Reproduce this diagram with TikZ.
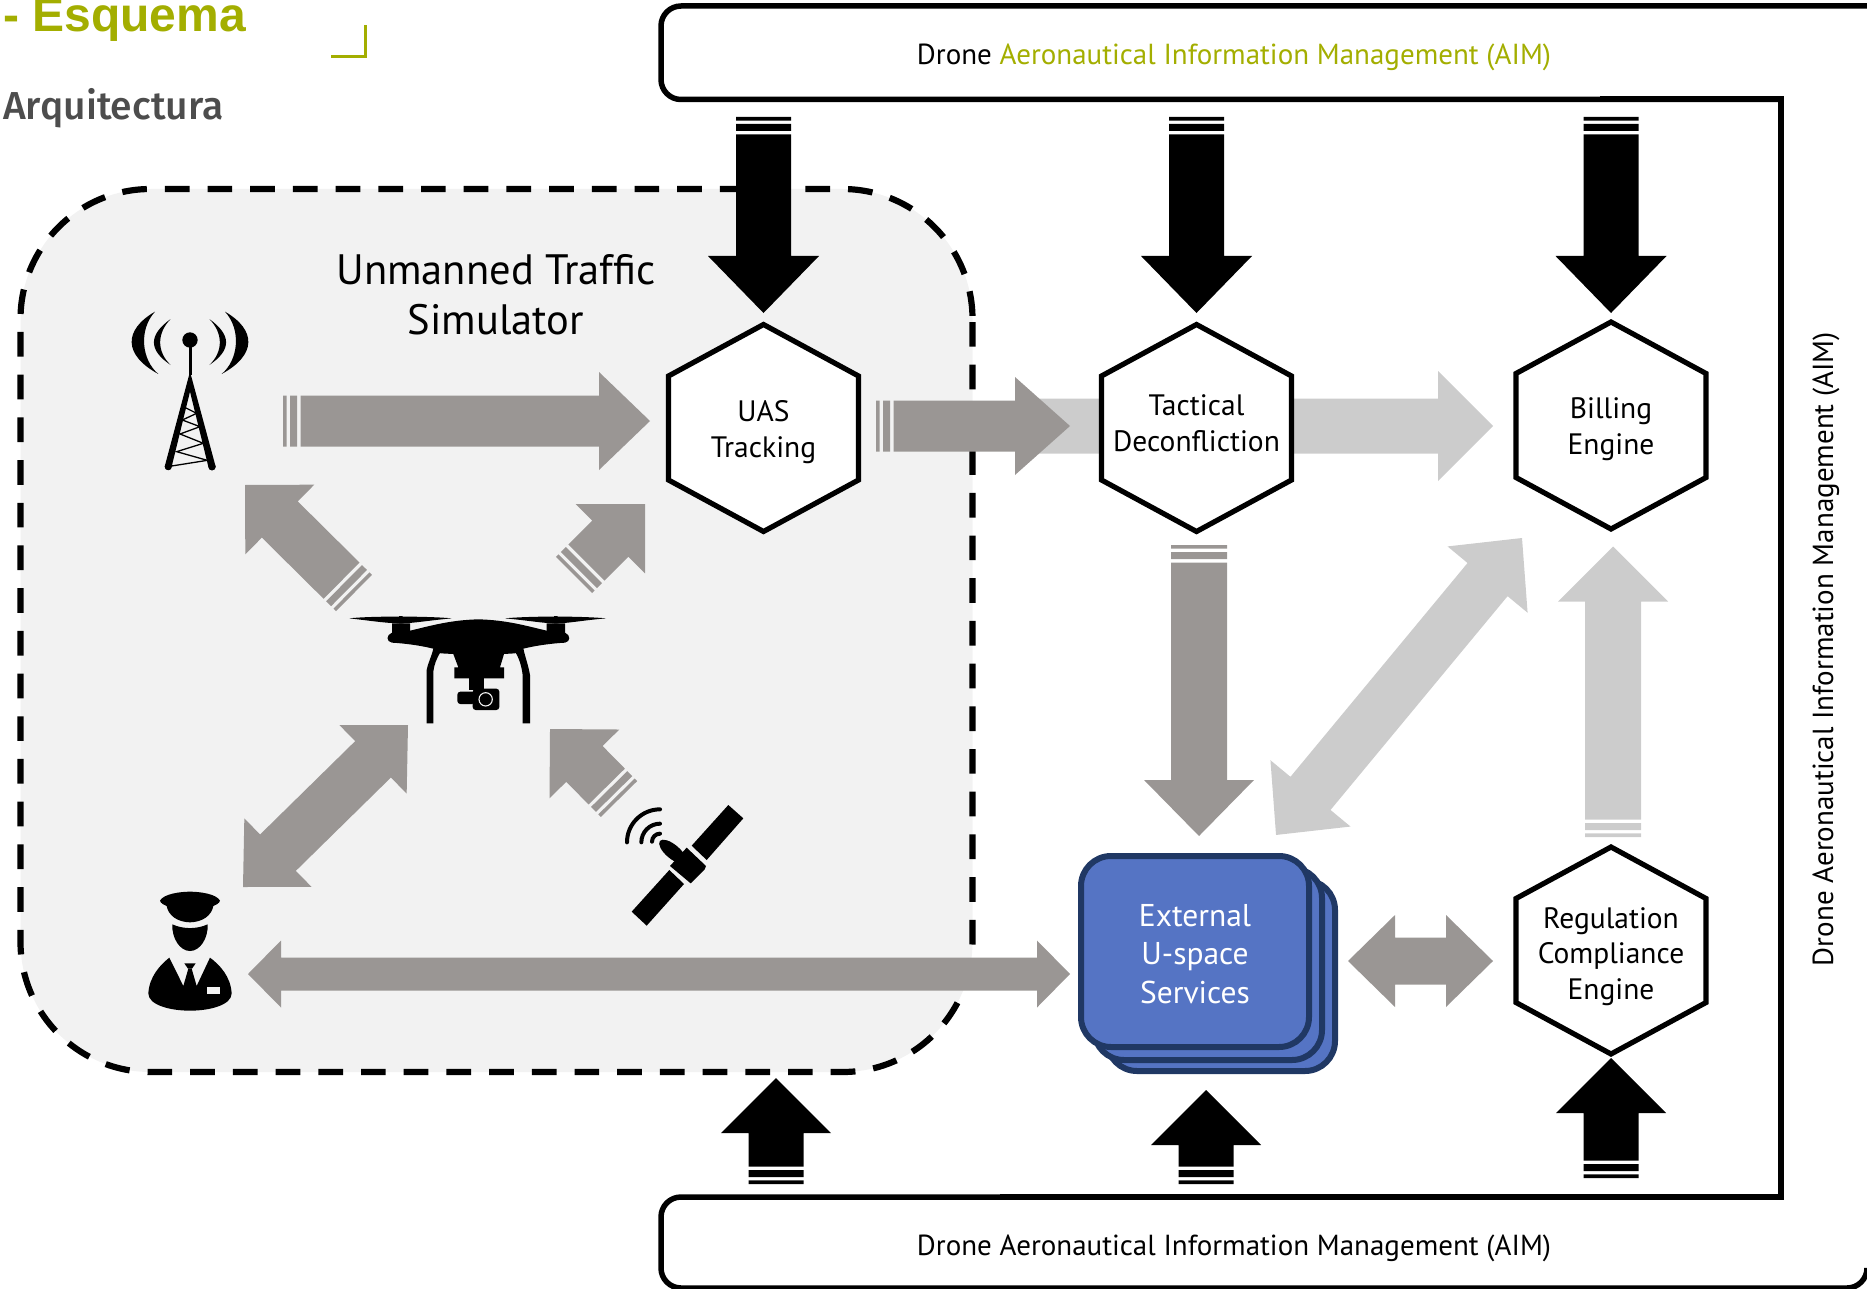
\documentclass[tikz,border=0pt]{standalone}
\usepackage{fontspec}
\setmainfont{PT Sans}
\newfontfamily\titlefont{Liberation Sans}
\newfontfamily\subfont{Fira Sans Medium}
\usetikzlibrary{calc}
\definecolor{darkgr}{HTML}{9A9694}
\definecolor{lightgr}{HTML}{CCCCCC}
\definecolor{simfill}{HTML}{F2F2F2}
\definecolor{aimgreen}{HTML}{A3AE00}
\definecolor{extfill}{HTML}{5574C4}
\definecolor{extline}{HTML}{203864}
\definecolor{subgr}{HTML}{4D4D4D}
\newcommand\getvec[2]{\path let \p1=($(#2)-(#1)$) in \pgfextra{\pgfmathsetmacro\aang{atan2(\y1,\x1)}\pgfmathsetmacro\alen{veclen(\x1,\y1)}\global\let\Aang\aang\global\let\Alen\alen};}
% from, to, colour, shaft, head, head length
\newcommand\stripearrow[6]{\getvec{#1}{#2}
 \fill[#3,shift={(#1)},rotate=\Aang,x=1pt,y=1pt]
  (0,-#4/2) rectangle (3.6,#4/2)
  (7,-#4/2) rectangle (14,#4/2)
  (17.5,-#4/2) -- ({\Alen-#6},-#4/2) -- ({\Alen-#6},-#5/2) -- (\Alen,0) -- ({\Alen-#6},#5/2) -- ({\Alen-#6},#4/2) -- (17.5,#4/2) -- cycle;}
\newcommand\dblarrow[6]{\getvec{#1}{#2}
 \fill[#3,shift={(#1)},rotate=\Aang,x=1pt,y=1pt]
  (0,0) -- (#6,-#5/2) -- (#6,-#4/2) -- ({\Alen-#6},-#4/2) -- ({\Alen-#6},-#5/2) -- (\Alen,0) -- ({\Alen-#6},#5/2) -- ({\Alen-#6},#4/2) -- (#6,#4/2) -- (#6,#5/2) -- cycle;}
\newcommand\plainarrow[6]{\getvec{#1}{#2}
 \fill[#3,shift={(#1)},rotate=\Aang,x=1pt,y=1pt]
  (0,-#4/2) -- ({\Alen-#6},-#4/2) -- ({\Alen-#6},-#5/2) -- (\Alen,0) -- ({\Alen-#6},#5/2) -- ({\Alen-#6},#4/2) -- (0,#4/2) -- cycle;}
% name, cx, cy, text offset, text
\newcommand\hexnode[5]{
 \draw[hexline,shift={(#2,#3)}] (0,-103.5) -- (95,-52) -- (95,52) -- (0,103.5) -- (-95,52) -- (-95,-52) -- cycle;
 \node[boxtext] (#1) at (#2,#3+#4) {#5};}
\tikzset{
 hexline/.style={draw=black,line width=5.2pt,fill=white,line join=miter},
 boxtext/.style={align=center,font=\fontsize{29.5}{35.7}\selectfont,text=black,inner sep=0pt},
 aimtext/.style={font=\fontsize{29}{32}\selectfont,inner sep=0pt},
 extbox/.style={draw=extline,line width=6pt,fill=extfill,rounded corners=30pt},
 icon/.style={x=0.33333pt,y=-0.33333pt},
}
\begin{document}
\begin{tikzpicture}[x=1pt,y=-1pt]
\useasboundingbox (0,0) rectangle (1867,1289);
\clip (0,0) rectangle (1867,1289);
% simulator region
\fill[simfill,rounded corners=130pt] (20.5,189) rectangle (972.5,1072);
\draw[draw=black,line width=6.2pt,dash pattern=on 24.7pt off 18pt,rounded corners=130pt] (972.5,322) -- (972.5,1072) -- (20.5,1072) -- (20.5,189) -- (972.5,189) -- (972.5,322);
% AIM frame
\draw[line width=5.5pt,rounded corners=20pt] (1900,6) -- (661,6) -- (661,99.5) -- (1781,99.5);
\draw[line width=6pt] (1600,99.5) -- (1781,99.5) -- (1781,1197) -- (1000,1197);
\draw[line width=5.5pt,rounded corners=20pt] (1300,1197) -- (661,1197) -- (661,1288) -- (1867,1288) -- (1867,1270);
% title
\node[anchor=base west,inner sep=0pt,text=aimgreen,font=\titlefont\bfseries\fontsize{48}{50}\selectfont] (title) at (3,32) {- Esquema};
\node[anchor=base west,inner sep=0pt,text=subgr,font=\subfont\fontsize{39}{40}\selectfont] (sub) at (3,120) {Arquitectura};
\draw[aimgreen,line width=3.4pt] (331,56.5) -- (365.5,56.5) -- (365.5,25);
% AIM labels
\node[aimtext] (aimtop) at (1234,57.5) {Drone \textcolor{aimgreen}{Aeronautical Information Management (AIM)}};
\node[aimtext] (aimbot) at (1234,1248) {Drone Aeronautical Information Management (AIM)};
\node[aimtext,rotate=90] (aimside) at (1826,649) {Drone Aeronautical Information Management (AIM)};
\node[align=center,inner sep=0pt,font=\fontsize{42.5}{50}\selectfont] (simlabel) at (496,295) {Unmanned Traffic\\Simulator};
% coordinates
\coordinate (t1s) at (763.5,117); \coordinate (t1e) at (763.5,313);
\coordinate (t2s) at (1196.5,117); \coordinate (t2e) at (1196.5,313);
\coordinate (t3s) at (1611,117); \coordinate (t3e) at (1611,313);
\coordinate (b1s) at (776,1184); \coordinate (b1e) at (776,1078);
\coordinate (b2s) at (1206,1184); \coordinate (b2e) at (1206,1090);
\coordinate (b3s) at (1611,1178); \coordinate (b3e) at (1611,1058);
\coordinate (towerOut) at (283,421); \coordinate (uasIn) at (650,421);
\coordinate (uasOut) at (876,426); \coordinate (tacIn) at (1070,426);
\coordinate (lightS) at (1024,426); \coordinate (billIn) at (1493,426);
\coordinate (droneA) at (354,593); \coordinate (towerIn) at (245,485);
\coordinate (droneB) at (574,575); \coordinate (uasInB) at (645,504);
\coordinate (satOut) at (619,799); \coordinate (droneC) at (550,729);
\coordinate (droneD) at (408,725); \coordinate (pilotA) at (243,887);
\coordinate (pilotB) at (248,974); \coordinate (extA) at (1070,974);
\coordinate (tacOut) at (1199,545); \coordinate (extIn) at (1199,836);
\coordinate (extB) at (1348,961); \coordinate (regA) at (1493,961);
\coordinate (regOut) at (1613,837); \coordinate (billB) at (1613,546.5);
\coordinate (billC) at (1522,538); \coordinate (extC) at (1276,835);
% light arrows (behind)
\plainarrow{lightS}{billIn}{lightgr}{55}{110}{55}
\stripearrow{regOut}{billB}{lightgr}{56}{110}{55}
\dblarrow{billC}{extC}{lightgr}{52}{104}{54}
% hexagons
\hexnode{uas}{763.5}{428}{4}{UAS\\Tracking}
\hexnode{tac}{1196.5}{428}{-5}{Tactical\\Deconfliction}
\hexnode{bill}{1611}{425.5}{4}{Billing\\Engine}
\hexnode{reg}{1611}{950.5}{6}{Regulation\\Compliance\\Engine}
% external services
\draw[extbox] (1107,880) rectangle (1335,1071);
\draw[extbox] (1094,868) rectangle (1322,1060);
\draw[extbox] (1081,856) rectangle (1309,1047);
\node[align=center,inner sep=0pt,text=white,font=\fontsize{31.5}{38.5}\selectfont] (ext) at (1195,954) {External\\U-space\\Services};
% black arrows
\stripearrow{t1s}{t1e}{black}{55}{111}{57}
\stripearrow{t2s}{t2e}{black}{55}{111}{57}
\stripearrow{t3s}{t3e}{black}{55}{111}{57}
\stripearrow{b1s}{b1e}{black}{55}{110}{55}
\stripearrow{b2s}{b2e}{black}{55}{110}{55}
\stripearrow{b3s}{b3e}{black}{55}{110}{55}
% dark grey arrows
\stripearrow{towerOut}{uasIn}{darkgr}{51}{98}{51}
\stripearrow{uasOut}{tacIn}{darkgr}{51}{98}{55}
\stripearrow{droneA}{towerIn}{darkgr}{51}{98}{49}
\stripearrow{droneB}{uasInB}{darkgr}{51}{98}{49}
\stripearrow{satOut}{droneC}{darkgr}{51}{98}{49}
\dblarrow{droneD}{pilotA}{darkgr}{51}{96}{49}
\dblarrow{pilotB}{extA}{darkgr}{33}{67}{33}
\stripearrow{tacOut}{extIn}{darkgr}{56}{110}{56}
\dblarrow{extB}{regA}{darkgr}{47}{92}{47}
% tower icon
\begin{scope}[shift={(100,280)},icon]
 \fill (270,180) circle (23);
 \draw[line width=3pt] (270,195) -- (270,285);
 \fill (270,275) -- (347,560) arc (0:180:11) -- (270,335) -- (215,560) arc (0:180:10.5) -- cycle;
 \fill (205,560) circle (10.5) (336,560) circle (11);
 \draw[line width=1.3pt] (250,380) -- (290,400) -- (247,420) -- (300,440) -- (240,462) -- (310,490) -- (230,515) -- (322,541) -- (215,558);
 \fill (165,95) .. controls (70,150) and (70,225) .. (175,282) .. controls (125,240) and (115,150) .. (165,95) -- cycle;
 \fill (212,117) .. controls (145,165) and (145,210) .. (212,255) .. controls (170,215) and (170,160) .. (212,117) -- cycle;
 \fill (375,95) .. controls (470,150) and (470,225) .. (365,282) .. controls (415,240) and (425,150) .. (375,95) -- cycle;
 \fill (328,117) .. controls (395,165) and (395,210) .. (328,255) .. controls (370,215) and (370,160) .. (328,117) -- cycle;
\end{scope}
% drone icon
\begin{scope}[shift={(330,590)},icon]
 \fill (58,85) .. controls (120,78) and (290,78) .. (365,85) .. controls (290,92) and (250,100) .. (212,100) .. controls (170,100) and (120,92) .. (58,85) -- cycle;
 \fill (525,85) .. controls (600,78) and (750,78) .. (828,85) .. controls (750,92) and (715,100) .. (677,100) .. controls (640,100) and (600,92) .. (525,85) -- cycle;
 \fill (207,78) rectangle (218,100) (672,78) rectangle (683,100);
 \fill (186,100) rectangle (240,135) (650,100) rectangle (705,135);
 \fill (186,128) -- (240,122) .. controls (300,108) and (360,90) .. (445,88) .. controls (530,90) and (590,108) .. (650,122) -- (705,128) .. controls (722,135) and (722,155) .. (705,158) .. controls (670,160) and (625,165) .. (580,176) -- (555,190) -- (522,192) -- (510,232) -- (522,232) -- (522,265) -- (373,265) -- (373,232) -- (385,232) -- (370,192) -- (332,190) -- (310,176) .. controls (265,165) and (220,160) .. (186,158) .. controls (168,155) and (168,135) .. (186,128) -- cycle;
 \fill (310,175) -- (332,185) .. controls (320,205) and (312,225) .. (310,245) -- (310,400) -- (290,400) -- (290,240) .. controls (295,215) and (305,200) .. (310,175) -- cycle;
 \fill (580,175) -- (555,185) .. controls (568,205) and (575,230) .. (578,255) -- (578,400) -- (600,400) -- (600,255) .. controls (595,225) and (585,200) .. (580,175) -- cycle;
 \fill (418,262) rectangle (462,300);
 \fill[rounded corners=3pt] (382,305) rectangle (435,342);
 \fill[rounded corners=3pt] (428,296) rectangle (508,360);
 \draw[simfill,line width=1.1pt] (467,328) circle (20);
\end{scope}
% pilot icon
\begin{scope}[shift={(120,870)},icon]
 \fill (120,92) .. controls (130,72) and (180,65) .. (210,65) .. controls (240,65) and (290,72) .. (300,92) .. controls (298,100) and (288,105) .. (280,108) .. controls (275,135) and (250,156) .. (210,157) .. controls (170,156) and (145,135) .. (140,108) .. controls (132,105) and (122,100) .. (120,92) -- cycle;
 \fill (157,163) .. controls (190,178) and (230,178) .. (263,163) .. controls (265,205) and (240,243) .. (210,243) .. controls (180,243) and (155,205) .. (157,163) -- cycle;
 \fill (85,370) .. controls (88,320) and (120,285) .. (148,263) -- (190,348) -- (205,296) -- (215,296) -- (230,348) -- (270,263) .. controls (300,285) and (332,320) .. (335,370) .. controls (335,405) and (270,422) .. (210,422) .. controls (150,422) and (85,405) .. (85,370) -- cycle;
 \fill (193,280) -- (227,280) -- (216,296) -- (204,296) -- cycle;
 \fill[simfill] (262,352) rectangle (300,371);
\end{scope}
% satellite icon
\begin{scope}[shift={(600,780)},icon]
 \fill (385,75) -- (430,115) -- (320,240) -- (275,197) -- cycle;
 \fill (95,395) -- (208,270) -- (252,312) -- (140,437) -- cycle;
 \fill (260,203) -- (318,258) -- (314,268) -- (272,310) -- (210,258) -- cycle;
 \fill[rotate around={-40:(218,215)}] (218,215) ellipse (50 and 21);
 \fill (188,188) -- (212,196) -- (200,208) -- cycle;
 \draw[line width=4pt,line cap=round] (81,187) arc (180:270:99);
 \draw[line width=4pt,line cap=round] (124,187) arc (180:270:56);
 \draw[line width=4pt,line cap=round] (156,185) arc (180:270:24);
\end{scope}
\end{tikzpicture}
\end{document}
